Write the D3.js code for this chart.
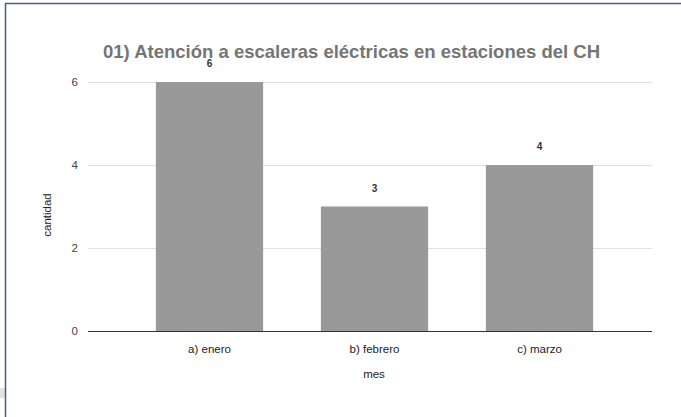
<!DOCTYPE html>
<html><head><meta charset="utf-8">
<script src="https://cdn.jsdelivr.net/npm/d3@7"></script>
<style>body{margin:0;background:#fff;}svg{display:block;font-family:"Liberation Sans",Arial,sans-serif;}</style>
</head><body>
<svg id="c" width="681" height="417"></svg>
<script>
const categories = ["a) enero", "b) febrero", "c) marzo"];
const values = [6, 3, 4];
const yTicks = [0, 2, 4, 6];
const title = "01) Atención a escaleras eléctricas en estaciones del CH";
const xTitle = "mes";
const yTitle = "cantidad";

const svg = d3.select("#c");
// frame
svg.append("rect").attr("x",0).attr("y",388).attr("width",6).attr("height",10).attr("fill","#e2e2e2");
svg.append("line").attr("x1",5.5).attr("x2",5.5).attr("y1",3).attr("y2",417).attr("stroke","#4b5e82").attr("stroke-width",1.5);
svg.append("line").attr("x1",5).attr("x2",681).attr("y1",3.5).attr("y2",3.5).attr("stroke","#4b5e82").attr("stroke-width",1.5);

const gx0 = 88, gx1 = 652;
const x = d3.scaleBand().domain(categories).range([127, 622]).paddingInner(0.35).paddingOuter(0.175);
const y = d3.scaleLinear().domain([0, 6]).range([331, 82]);

// grid
svg.append("g").selectAll("line").data(yTicks.filter(d=>d!==0)).join("line")
  .attr("x1",gx0).attr("x2",gx1).attr("y1",d=>y(d)+0.5).attr("y2",d=>y(d)+0.5)
  .attr("stroke","#e0e0e0").attr("stroke-width",1);

// y axis labels
const ya = svg.append("g").attr("transform",`translate(${gx0},0)`)
  .call(d3.axisLeft(y).tickValues(yTicks).tickFormat(d3.format("d")).tickSize(0).tickPadding(10));
ya.select(".domain").remove();
ya.selectAll("text").attr("font-size",11.5).attr("fill","#444").attr("font-family","Liberation Sans, Arial, sans-serif");

// bars
svg.append("g").selectAll("rect").data(values).join("rect")
  .attr("x",(d,i)=>x(categories[i])).attr("width",x.bandwidth())
  .attr("y",d=>y(d)).attr("height",d=>y(0)-y(d)).attr("fill","#999999");

// value labels
svg.append("g").selectAll("text").data(values).join("text")
  .attr("x",(d,i)=>x(categories[i])+x.bandwidth()/2).attr("y",d=>y(d)-15)
  .attr("text-anchor","middle").attr("font-size",10).attr("font-weight","bold").attr("fill","#333").text(d=>d);

// baseline
svg.append("line").attr("x1",gx0).attr("x2",gx1).attr("y1",y(0)+0.5).attr("y2",y(0)+0.5).attr("stroke","#333").attr("stroke-width",1);

// x axis
const xa = svg.append("g").attr("transform",`translate(0,${y(0)})`)
  .call(d3.axisBottom(x).tickSize(0).tickPadding(14));
xa.select(".domain").remove();
xa.selectAll("text").attr("font-size",11.5).attr("fill","#222").attr("font-family","Liberation Sans, Arial, sans-serif");

// titles
svg.append("text").attr("x",103).attr("y",58).attr("font-size",18.5).attr("font-weight","bold").attr("fill","#757575").text(title);
svg.append("text").attr("x",374).attr("y",378).attr("text-anchor","middle").attr("font-size",11.5).attr("fill","#222").text(xTitle);
svg.append("text").attr("transform","translate(51,215) rotate(-90)").attr("text-anchor","middle").attr("font-size",11.5).attr("fill","#222").text(yTitle);
</script>
</body></html>
